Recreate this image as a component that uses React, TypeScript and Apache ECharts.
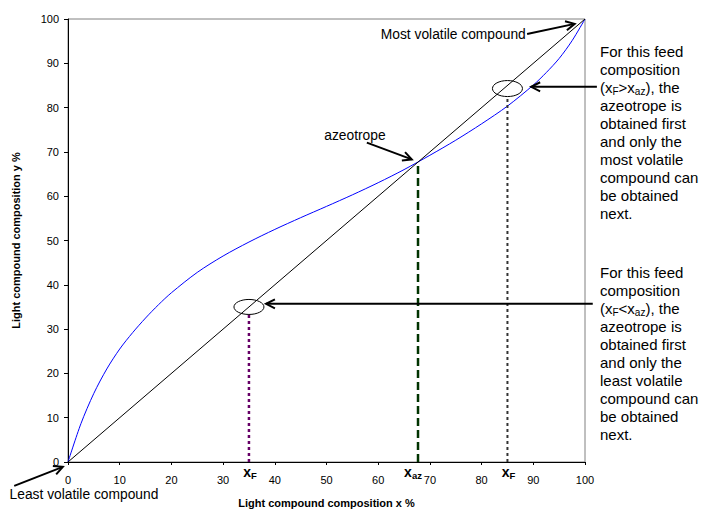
import React, { useEffect, useRef } from "react";
import * as echarts from "echarts";

const FONT = "'Liberation Sans', Arial, Helvetica, sans-serif";

// Equilibrium (VLE) curve
const eqX = [0, 2.5, 5, 7.5, 10, 12.5, 15, 17.5, 20, 25, 30, 35, 40, 45, 50, 55, 60, 65, 70, 75, 80, 85, 90, 92.5, 95, 97.5, 100];
const eqY = [0, 8.65, 15.5, 21.0, 25.5, 29.2, 32.5, 35.5, 38.2, 42.8, 46.5, 49.65, 52.5, 55.15, 57.7, 60.3, 63.05, 66.0, 69.24, 72.64, 76.34, 80.34, 85.09, 87.9, 91.09, 95.1, 100];

// Diagonal y = x
const diagX = [0, 100];
const diagY = [0, 100];

// Feed / azeotrope compositions
const xFLow = 35;
const yFLowTop = 33.3;
const xAz = 67.7;
const xFHigh = 85;
const yFHighTop = 82.5;

// Ellipses (centres, data units) and their pixel radii
const ellipseCenters = [[35, 35], [85, 84.3]];
const ellipseRx = [15, 15];
const ellipseRy = [7.5, 8];

// Arrows (tail -> tip, data units)
const arrowFrom = [[88.8, 96.6], [57.8, 72.1], [-10.4, -5.4], [102.3, 84.7], [101.5, 35.7]];
const arrowTo = [[98.0, 98.9], [66.5, 68.3], [-1.0, -1.1], [89.6, 84.7], [38.3, 35.7]];

// Annotation labels
const noteTexts = ["Most volatile compound", "azeotrope", "Least volatile compound"];
const noteAnchors = [[60.5, 96.5], [55.5, 73.7], [-11.3, -7.3]];
const noteAlign = ["left", "center", "left"];

// Axis markers below the x axis
const markerX = [xFLow, xAz, xFHigh];
const markerSub = ["F", "az", "F"];
const markerShift = [1, -5, 1];

// Right-hand explanations
const block1 = ["For this feed", "composition", "{n|(x}{s|F}{n|>x}{s|az}{n|), the}", "azeotrope is", "obtained first", "and only the", "most volatile", "compound can", "be obtained", "next."];
const block2 = ["For this feed", "composition", "{n|(x}{s|F}{n|<x}{s|az}{n|), the}", "azeotrope is", "obtained first", "and only the", "least volatile", "compound can", "be obtained", "next."];

export default function App() {
  const ref = useRef<HTMLDivElement>(null);
  useEffect(() => {
    if (!ref.current) return;
    const chart = echarts.init(ref.current, undefined, { renderer: "svg" });

    const rich = {
      n: { fontSize: 15, fontFamily: FONT, color: "#000", lineHeight: 18 },
      s: { fontSize: 10, fontFamily: FONT, color: "#000", verticalAlign: "bottom" },
    };
    const blockText = (lines: string[], y0: number) =>
      lines.map((t, i) => ({
        type: "text",
        x: 600,
        y: y0 + i * 18.1,
        z: 10,
        style: {
          text: t.startsWith("{") ? t : `{n|${t}}`,
          rich,
          fill: "#000",
          verticalAlign: "middle",
          align: "left",
        },
      }));

    const renderAnnotations = (_params: any, api: any) => {
      const children: any[] = [];
      ellipseCenters.forEach((c, i) => {
        const p = api.coord(c);
        children.push({
          type: "ellipse",
          shape: { cx: p[0], cy: p[1], rx: ellipseRx[i], ry: ellipseRy[i] },
          style: { fill: "none", stroke: "#000", lineWidth: 1 },
        });
      });
      arrowFrom.forEach((f, i) => {
        const a = api.coord(f);
        const b = api.coord(arrowTo[i]);
        const ang = Math.atan2(b[1] - a[1], b[0] - a[0]);
        const L = 10;
        const phi = 0.47;
        children.push({
          type: "line",
          shape: { x1: a[0], y1: a[1], x2: b[0], y2: b[1] },
          style: { stroke: "#000", lineWidth: 2 },
        });
        children.push({
          type: "polyline",
          shape: {
            points: [
              [b[0] - L * Math.cos(ang - phi), b[1] - L * Math.sin(ang - phi)],
              [b[0], b[1]],
              [b[0] - L * Math.cos(ang + phi), b[1] - L * Math.sin(ang + phi)],
            ],
          },
          style: { stroke: "#000", lineWidth: 2, fill: "none" },
        });
      });
      noteTexts.forEach((t, i) => {
        const p = api.coord(noteAnchors[i]);
        children.push({
          type: "text",
          x: p[0],
          y: p[1],
          style: {
            text: t,
            fill: "#000",
            fontSize: 13.8,
            fontFamily: FONT,
            align: noteAlign[i],
            verticalAlign: "middle",
          },
        });
      });
      markerX.forEach((mx, i) => {
        const p = api.coord([mx, 0]);
        children.push({
          type: "text",
          x: p[0] + markerShift[i],
          y: p[1] + 10,
          style: {
            text: `{x|x}{s|${markerSub[i]}}`,
            rich: {
              x: { fontSize: 14, fontWeight: "bold", fontFamily: FONT, color: "#000", lineHeight: 16 },
              s: { fontSize: 9.5, fontWeight: "bold", fontFamily: FONT, color: "#000", verticalAlign: "bottom" },
            },
            align: "center",
            verticalAlign: "middle",
          },
        });
      });
      return { type: "group", children };
    };

    chart.setOption({
      animation: false,
      backgroundColor: "#fff",
      grid: {
        left: 68,
        right: 117,
        top: 19,
        bottom: 49,
        show: true,
        borderColor: "#808080",
        borderWidth: 1,
        backgroundColor: "transparent",
      },
      xAxis: {
        type: "value",
        min: 0,
        max: 100,
        interval: 10,
        name: "Light compound composition x %",
        nameLocation: "middle",
        nameGap: 35,
        nameTextStyle: { fontWeight: "bold", fontSize: 11, color: "#000", fontFamily: FONT },
        axisLine: { lineStyle: { color: "#000", width: 1 } },
        axisTick: { show: true, length: 3, lineStyle: { color: "#000" } },
        splitLine: { show: false },
        axisLabel: { fontSize: 11, color: "#000", margin: 12, fontFamily: FONT },
      },
      yAxis: {
        type: "value",
        min: 0,
        max: 100,
        interval: 10,
        name: "Light compound composition y %",
        nameLocation: "middle",
        nameGap: 47,
        nameTextStyle: { fontWeight: "bold", fontSize: 11, color: "#000", fontFamily: FONT },
        axisLine: { show: true, lineStyle: { color: "#000", width: 1 } },
        axisTick: { show: true, length: 4, lineStyle: { color: "#000" } },
        splitLine: { show: false },
        axisLabel: { fontSize: 11, color: "#000", margin: 9, fontFamily: FONT },
      },
      graphic: [...blockText(block1, 51), ...blockText(block2, 272)],
      series: [
        {
          type: "line",
          data: eqX.map((x, i) => [x, eqY[i]]),
          smooth: 0.3,
          symbol: "none",
          lineStyle: { color: "#0000ff", width: 1 },
        },
        {
          type: "line",
          data: diagX.map((x, i) => [x, diagY[i]]),
          symbol: "none",
          lineStyle: { color: "#000", width: 1 },
        },
        {
          type: "line",
          data: [[xFLow, 0], [xFLow, yFLowTop]],
          symbol: "none",
          lineStyle: { color: "#660066", width: 2.5, type: [3, 3] },
        },
        {
          type: "line",
          data: [[xAz, 0], [xAz, xAz]],
          symbol: "none",
          lineStyle: { color: "#003300", width: 2.5, type: [8, 4] },
        },
        {
          type: "line",
          data: [[xFHigh, 0], [xFHigh, yFHighTop]],
          symbol: "none",
          lineStyle: { color: "#333333", width: 2, type: [3, 3] },
        },
        {
          type: "custom",
          coordinateSystem: "cartesian2d",
          clip: false,
          silent: true,
          z: 5,
          data: [[0, 0]],
          renderItem: renderAnnotations,
        },
      ],
    });
    return () => chart.dispose();
  }, []);
  return (
    <div
      ref={ref}
      style={{ position: "fixed", left: 0, top: 0, width: 702, height: 513, background: "#fff" }}
    />
  );
}
